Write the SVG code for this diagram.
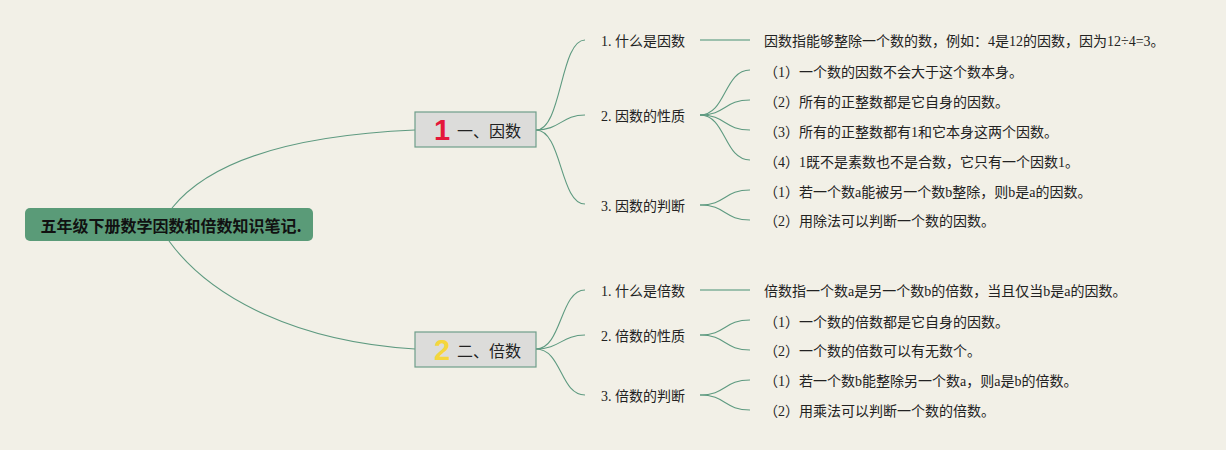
<svg xmlns="http://www.w3.org/2000/svg" width="1226" height="450" viewBox="0 0 1226 450">
<style>
.bg{fill:#f2f0e7}
.root rect{fill:#5a9b78}
.root text{font-family:"Noto Sans CJK SC","Liberation Sans",sans-serif;font-weight:bold;font-size:16px;fill:#111;text-anchor:middle;dominant-baseline:central}
.br rect{fill:#dcdcda;stroke:#6e9e8a;stroke-width:1.2}
.br .lbl{font-family:"Noto Sans CJK SC","Liberation Sans",sans-serif;font-size:16px;fill:#222;dominant-baseline:central}
.num{font-family:"Liberation Sans","Noto Sans",sans-serif;font-weight:bold;font-size:29px;text-anchor:middle;dominant-baseline:central}
.t{font-family:"Liberation Serif","Noto Sans CJK SC",serif;font-size:14px;fill:#222;dominant-baseline:central}
.c path{fill:none;stroke:#5e9a80;stroke-width:1.1}
.c .flat{stroke:#9cc0ad;stroke-width:1.8}
</style>
<rect class="bg" width="1226" height="450"/>
<g class="c" id="connectors">
<path d="M172 208 C212 158 300 135 415 130"/>
<path d="M169 241 C212 300 300 342 415 349"/>
<path d="M536 130 C562 130 560 40 585 40"/>
<path d="M536 130 C560 130 562 115 585 115"/>
<path d="M536 130 C562 130 560 204 585 204"/>
<path d="M536 349 C562 349 560 290 585 290"/>
<path d="M536 349 C560 349 562 335 585 335"/>
<path d="M536 349 C562 349 560 395 585 395"/>
<path class="flat" d="M700 40 L750 40"/>
<path d="M700 115 C726 115 724 70 750 70"/>
<path d="M700 115 C726 115 724 100 750 100"/>
<path d="M700 115 C726 115 724 130 750 130"/>
<path d="M700 115 C726 115 724 160 750 160"/>
<path d="M700 205 C726 205 724 190 750 190"/>
<path d="M700 205 C726 205 724 220 750 220"/>
<path class="flat" d="M700 290 L750 290"/>
<path d="M700 335 C726 335 724 320 750 320"/>
<path d="M700 335 C726 335 724 350 750 350"/>
<path d="M700 395 C726 395 724 380 750 380"/>
<path d="M700 395 C726 395 724 410 750 410"/>
</g>
<g class="root" id="root">
<rect x="25" y="208" width="288" height="33" rx="5"/>
<text x="171" y="225">五年级下册数学因数和倍数知识笔记.</text>
</g>
<g class="br" id="branch1">
<rect x="415" y="112" width="121" height="35"/>
<text class="num" x="442" y="130" fill="#e4173a">1</text>
<text class="lbl" x="457" y="130">一、因数</text>
</g>
<g class="br" id="branch2">
<rect x="415" y="332" width="121" height="35"/>
<text class="num" x="442" y="350" fill="#f5d63d">2</text>
<text class="lbl" x="457" y="350">二、倍数</text>
</g>
<g id="sub1a"><text class="t" x="601" y="41">1. 什么是因数</text></g>
<g id="sub1b"><text class="t" x="601" y="116">2. 因数的性质</text></g>
<g id="sub1c"><text class="t" x="601" y="206">3. 因数的判断</text></g>
<g id="sub2a"><text class="t" x="601" y="291">1. 什么是倍数</text></g>
<g id="sub2b"><text class="t" x="601" y="336">2. 倍数的性质</text></g>
<g id="sub2c"><text class="t" x="601" y="396">3. 倍数的判断</text></g>
<g id="leaf1"><text class="t" x="764" y="41">因数指能够整除一个数的数，例如：4是12的因数，因为12÷4=3。</text></g>
<g id="leaf2"><text class="t" x="764" y="72">（1）一个数的因数不会大于这个数本身。</text></g>
<g id="leaf3"><text class="t" x="764" y="102">（2）所有的正整数都是它自身的因数。</text></g>
<g id="leaf4"><text class="t" x="764" y="132">（3）所有的正整数都有1和它本身这两个因数。</text></g>
<g id="leaf5"><text class="t" x="764" y="162">（4）1既不是素数也不是合数，它只有一个因数1。</text></g>
<g id="leaf6"><text class="t" x="764" y="192">（1）若一个数a能被另一个数b整除，则b是a的因数。</text></g>
<g id="leaf7"><text class="t" x="764" y="221">（2）用除法可以判断一个数的因数。</text></g>
<g id="leaf8"><text class="t" x="764" y="291">倍数指一个数a是另一个数b的倍数，当且仅当b是a的因数。</text></g>
<g id="leaf9"><text class="t" x="764" y="322">（1）一个数的倍数都是它自身的因数。</text></g>
<g id="leaf10"><text class="t" x="764" y="351">（2）一个数的倍数可以有无数个。</text></g>
<g id="leaf11"><text class="t" x="764" y="381">（1）若一个数b能整除另一个数a，则a是b的倍数。</text></g>
<g id="leaf12"><text class="t" x="764" y="411">（2）用乘法可以判断一个数的倍数。</text></g>
</svg>
